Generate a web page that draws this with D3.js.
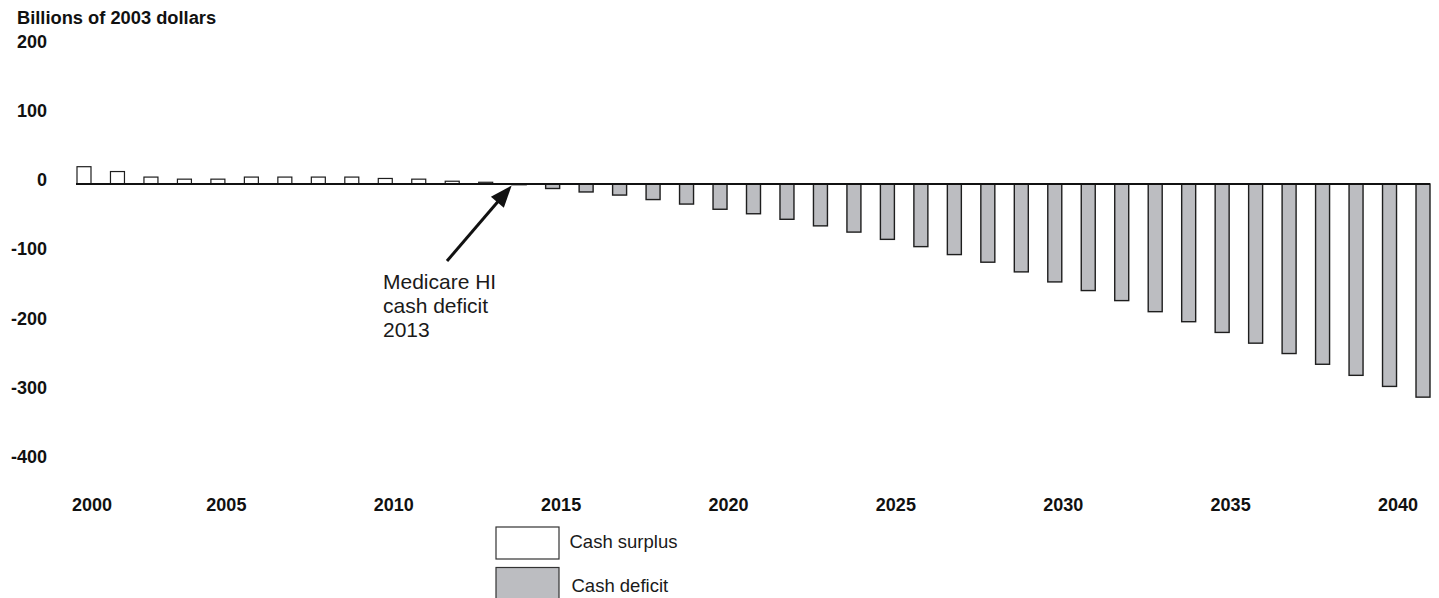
<!DOCTYPE html>
<html>
<head>
<meta charset="utf-8">
<script src="https://cdn.jsdelivr.net/npm/d3@7"></script>
<style>
  html, body { margin: 0; padding: 0; background: #fff; }
  svg { display: block; font-family: "Liberation Sans", Arial, Helvetica, sans-serif; }
</style>
</head>
<body>
<svg id="chart" width="1439" height="598"></svg>
<script>
// ---- data ----
const years = [2000, 2001, 2002, 2003, 2004, 2005, 2006, 2007, 2008, 2009,
               2010, 2011, 2012, 2013, 2014, 2015, 2016, 2017, 2018, 2019,
               2020, 2021, 2022, 2023, 2024, 2025, 2026, 2027, 2028, 2029,
               2030, 2031, 2032, 2033, 2034, 2035, 2036, 2037, 2038, 2039, 2040];
const cashBalance = [25, 18, 10, 7, 7, 10, 10, 10, 10, 8,
                     7, 4, 2.5, -1, -6.5, -11.5, -16, -22.5, -29, -36.5,
                     -43, -51, -60.5, -69.5, -80, -90.5, -102, -113, -127, -141.5,
                     -154, -168.5, -184.5, -199, -214.5, -230, -245, -260.5, -276.5, -292.5, -308];
const yTicks = [200, 100, 0, -100, -200, -300, -400];
const xTickYears = [2000, 2005, 2010, 2015, 2020, 2025, 2030, 2035, 2040];
const yTitle = "Billions of 2003 dollars";
const annotationLines = ["Medicare HI", "cash deficit", "2013"];
const annotationYear = 2013;
const legendItems = [
  { key: "surplus", label: "Cash surplus" },
  { key: "deficit", label: "Cash deficit" }
];

// ---- styles ----
const GRAY = "#bcbdc1";
const STROKE = "#1e1e1e";

const svg = d3.select("#chart");

const x = d3.scaleBand()
  .domain(years)
  .range([77, 1430])
  .paddingInner(0.582)
  .paddingOuter(0);

const y = d3.scaleLinear()
  .domain([-400, 200])
  .range([184 + 400 * 0.692, 184 - 200 * 0.692]);

const data = years.map((yr, i) => ({ year: yr, value: cashBalance[i] }));

// y title
svg.append("text")
  .attr("x", 17).attr("y", 23.5)
  .attr("font-size", 18.3).attr("font-weight", "bold")
  .attr("fill", "#111")
  .text(yTitle);

// y axis labels (no line, no ticks)
const yAxis = d3.axisLeft(y).tickValues(yTicks).tickSize(0).tickPadding(0)
  .tickFormat(d3.format("d"));
const gy = svg.append("g").attr("transform", "translate(47,0)").call(yAxis);
gy.select(".domain").remove();
gy.selectAll("text")
  .attr("font-size", 18).attr("font-weight", "bold")
  .attr("font-family", "'Liberation Sans', Arial, sans-serif")
  .attr("fill", "#111")
  .attr("dy", "0.32em")
  .attr("y", -4)
  .text(d => d3.format("d")(d).replace("−", "-"));

// bars
svg.append("g").selectAll("rect")
  .data(data)
  .join("rect")
  .attr("x", d => x(d.year))
  .attr("width", x.bandwidth())
  .attr("y", d => y(Math.max(0, d.value)))
  .attr("height", d => Math.abs(y(d.value) - y(0)))
  .attr("fill", d => d.value >= 0 ? "#ffffff" : GRAY)
  .attr("stroke", STROKE)
  .attr("stroke-width", d => d.value >= 0 ? 1.2 : 1.4);

// zero line
svg.append("line")
  .attr("x1", x(years[0]) - 1)
  .attr("x2", x(years[years.length - 1]) + x.bandwidth())
  .attr("y1", y(0)).attr("y2", y(0))
  .attr("stroke", "#111").attr("stroke-width", 2);

// x axis labels
const gx = svg.append("g");
gx.selectAll("text")
  .data(xTickYears)
  .join("text")
  .attr("x", (d, i) => x(d) + x.bandwidth() / 2 + (i === 0 ? 8 : -25))
  .attr("y", 510.5)
  .attr("text-anchor", "middle")
  .attr("font-size", 18).attr("font-weight", "bold")
  .attr("fill", "#111")
  .text(d => d);

// annotation arrow
const tipX = x(annotationYear) - 7.5 + x.bandwidth() / 2, tipY = y(0) + 1.5;
const startX = 447, startY = 261;
const dx = tipX - startX, dy = tipY - startY;
const len = Math.sqrt(dx * dx + dy * dy);
const ux = dx / len, uy = dy / len;
const headLen = 22, headHalf = 8.5;
const bx = tipX - ux * headLen, by = tipY - uy * headLen;
svg.append("line")
  .attr("x1", startX).attr("y1", startY)
  .attr("x2", bx + ux * 2).attr("y2", by + uy * 2)
  .attr("stroke", "#111").attr("stroke-width", 3);
svg.append("path")
  .attr("d", `M${tipX},${tipY} L${bx - uy * headHalf},${by + ux * headHalf} L${bx + uy * headHalf},${by - ux * headHalf} Z`)
  .attr("fill", "#111");

// annotation text
const ann = svg.append("text")
  .attr("x", 383).attr("y", 288.5)
  .attr("font-size", 21).attr("fill", "#1a1a1a");
annotationLines.forEach((t, i) => {
  ann.append("tspan").attr("x", 383).attr("dy", i === 0 ? 0 : 24).text(t);
});

// legend
const legend = svg.append("g");
legendItems.forEach((item, i) => {
  const ly = 527 + i * 40.5;
  legend.append("rect")
    .attr("x", 496).attr("y", ly)
    .attr("width", 63).attr("height", 32)
    .attr("fill", item.key === "surplus" ? "#ffffff" : GRAY)
    .attr("stroke", "#333").attr("stroke-width", 1.2);
  legend.append("text")
    .attr("x", item.key === "surplus" ? 569.5 : 571.5)
    .attr("y", item.key === "surplus" ? 548 : 591.5)
    .attr("font-size", 18.5).attr("fill", "#1a1a1a")
    .text(item.label);
});
</script>
</body>
</html>
